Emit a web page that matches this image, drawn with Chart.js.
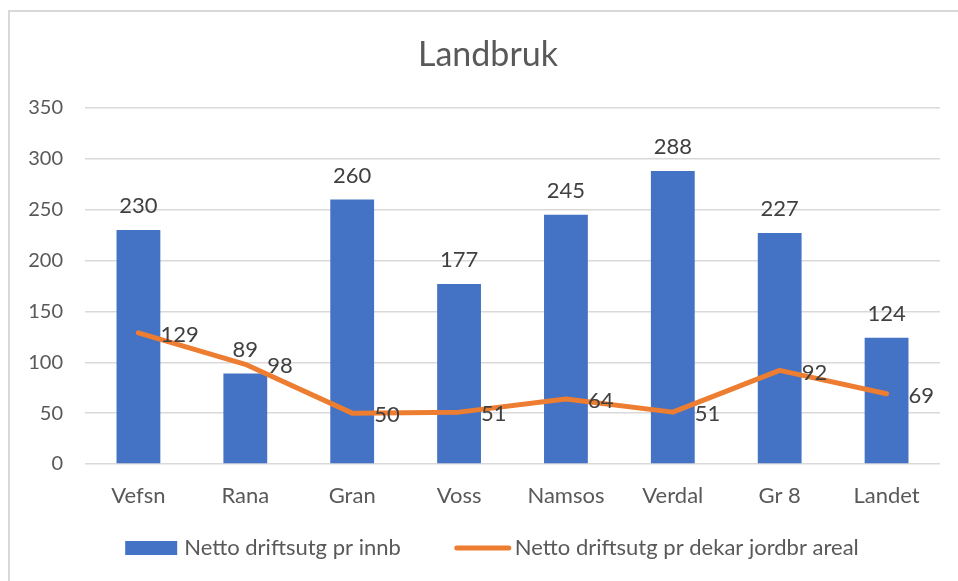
<!DOCTYPE html>
<html>
<head>
<meta charset="utf-8">
<script src="https://cdn.jsdelivr.net/npm/chart.js@4/dist/chart.umd.min.js"></script>
<style>
  html, body { margin: 0; padding: 0; background: #fff; }
  #frame { position: absolute; left: 8px; top: 10px; width: 1000px; height: 1000px; border: 2px solid #d9d9d9; box-sizing: border-box; }
  #wrap { position: absolute; left: 0; top: 0; width: 958px; height: 581px; }
</style>
</head>
<body>
<div id="frame"></div>
<div id="wrap"><canvas id="chartLandbruk"></canvas></div>
<script>
// ==================== DATA ====================
const tittel = 'Landbruk';
const kommuner = ['Vefsn', 'Rana', 'Gran', 'Voss', 'Namsos', 'Verdal', 'Gr 8', 'Landet'];
const prInnb = [230, 89, 260, 177, 245, 288, 227, 124];
const prDekar = [129, 98, 50, 51, 64, 51, 92, 69];
const yTicks = [0, 50, 100, 150, 200, 250, 300, 350];

const FONT = 'Lato, Carlito, Calibri, sans-serif';

// data labels: above the bars, right of the line points
const etiketter = {
    id: 'etiketter',
    afterDatasetsDraw(chart) {
        const ctx = chart.ctx;
        ctx.save();
        ctx.font = '22px ' + FONT;
        ctx.fillStyle = '#404040';
        ctx.textBaseline = 'middle';

        chart.getDatasetMeta(0).data.forEach(function(bar, i) {
            ctx.textAlign = 'center';
            ctx.fillText(String(prInnb[i]), bar.x, bar.y - 24);
        });
        chart.getDatasetMeta(1).data.forEach(function(pt, i) {
            ctx.textAlign = 'left';
            ctx.fillText(String(prDekar[i]), pt.x + 22, pt.y + 2);
        });
        ctx.restore();
    }
};

// title + legend drawn by hand so the placement looks like the Excel one
const forklaring = {
    id: 'forklaring',
    afterDraw(chart) {
        const ctx = chart.ctx;
        const ds = chart.data.datasets;
        ctx.save();
        ctx.textBaseline = 'middle';

        ctx.font = '34px ' + FONT;
        ctx.fillStyle = '#595959';
        ctx.textAlign = 'center';
        ctx.fillText(tittel, 488, 55);

        ctx.font = '22px ' + FONT;
        ctx.textAlign = 'left';
        const w0 = ctx.measureText(ds[0].label).width;
        const w1 = ctx.measureText(ds[1].label).width;
        const total = 52 + 7 + w0 + 54 + 56 + 4 + w1;
        let x = 492 - total / 2;
        const y = 548;

        ctx.fillStyle = ds[0].backgroundColor;
        ctx.fillRect(x, y - 7, 52, 14);
        x += 59;
        ctx.fillStyle = '#595959';
        ctx.fillText(ds[0].label, x, y);
        x += w0 + 54;

        ctx.strokeStyle = ds[1].borderColor;
        ctx.lineWidth = 5;
        ctx.lineCap = 'round';
        ctx.beginPath();
        ctx.moveTo(x + 2, y);
        ctx.lineTo(x + 54, y);
        ctx.stroke();
        x += 60;
        ctx.fillText(ds[1].label, x, y);
        ctx.restore();
    }
};

document.addEventListener("DOMContentLoaded", function() {
    const ctx = document.getElementById('chartLandbruk').getContext('2d');

    new Chart(ctx, {
        type: 'bar',
        data: {
            labels: kommuner,
            datasets: [{
                label: 'Netto driftsutg pr innb',
                data: prInnb,
                backgroundColor: '#4472C4',
                barPercentage: 0.41,
                categoryPercentage: 1,
                order: 1
            }, {
                type: 'line',
                label: 'Netto driftsutg pr dekar jordbr areal',
                data: prDekar,
                borderColor: '#ED7D31',
                backgroundColor: '#ED7D31',
                borderWidth: 5,
                borderCapStyle: 'round',
                borderJoinStyle: 'round',
                pointRadius: 0,
                tension: 0,
                order: 0
            }]
        },
        options: {
            responsive: true,
            maintainAspectRatio: false,
            animation: false,
            layout: { padding: { left: 8, right: 18, top: 108, bottom: 0 } },
            plugins: {
                title: { display: false },
                legend: { display: false },
                tooltip: { enabled: false }
            },
            scales: {
                x: {
                    afterFit: function(scale) { scale.height = 117; },
                    grid: { display: false, drawTicks: false },
                    border: { display: false },
                    ticks: { color: '#595959', font: { family: FONT, size: 22 }, padding: 19 }
                },
                y: {
                    min: 0,
                    max: 350,
                    afterBuildTicks: function(scale) {
                        scale.ticks = yTicks.map(v => ({ value: v }));
                    },
                    afterFit: function(scale) { scale.width = 77; },
                    grid: { color: '#d9d9d9', lineWidth: 1.5, drawTicks: false },
                    border: { display: false },
                    ticks: { color: '#595959', font: { family: FONT, size: 20 }, padding: 22 }
                }
            }
        },
        plugins: [etiketter, forklaring]
    });
});
</script>
</body>
</html>
